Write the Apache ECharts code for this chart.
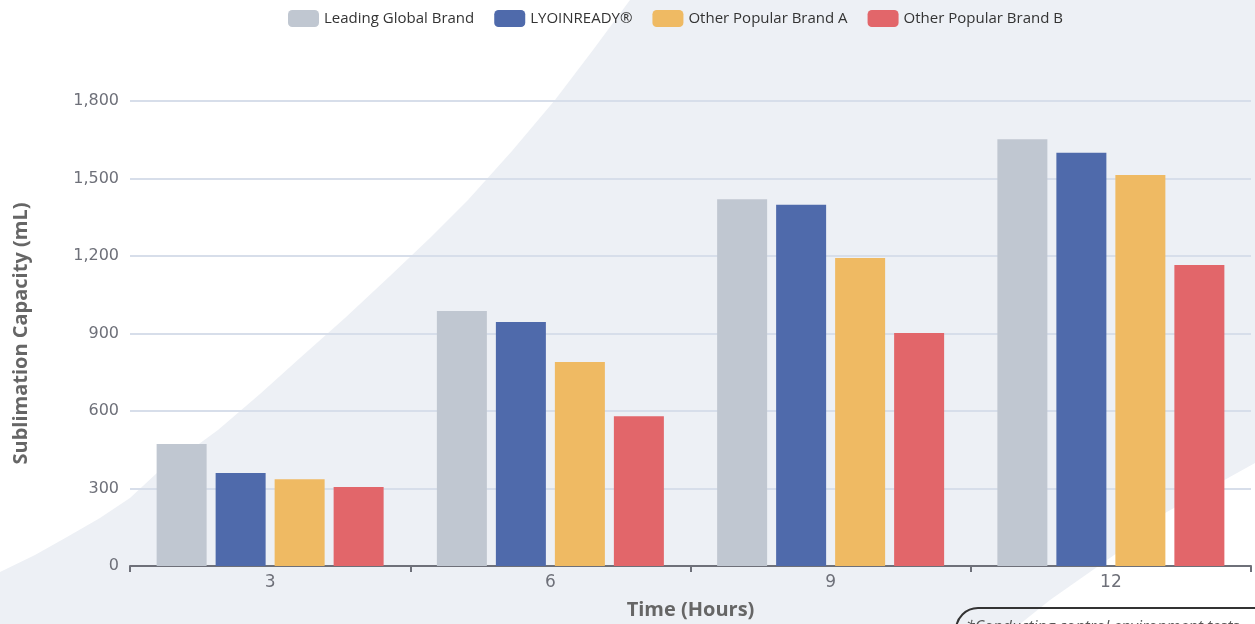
<!DOCTYPE html>
<html>
<head>
<meta charset="utf-8">
<script src="https://cdn.jsdelivr.net/npm/echarts@6/dist/echarts.min.js"></script>
<style>
  html, body { margin: 0; padding: 0; background: #fff; }
  #chart { width: 1255px; height: 624px; }
</style>
</head>
<body>
<div id="chart"></div>
<script>
const hours = ['3', '6', '9', '12'];
const leadingGlobal = [472, 987, 1420, 1652];
const lyoinready = [360, 945, 1398, 1600];
const brandA = [336, 790, 1192, 1514];
const brandB = [306, 580, 902, 1165];

const seriesDefs = [
  { name: 'Leading Global Brand', color: '#c0c7d1', data: leadingGlobal },
  { name: 'LYOINREADY®', color: '#4f6aab', data: lyoinready },
  { name: 'Other Popular Brand A', color: '#efba63', data: brandA },
  { name: 'Other Popular Brand B', color: '#e2666a', data: brandB }
];

const FONT = '"Open Sans", "Noto Sans", sans-serif';
const TICK_FONT = '"DejaVu Sans", sans-serif';

const chart = echarts.init(document.getElementById('chart'), null, { renderer: 'canvas' });

chart.setOption({
  backgroundColor: '#ffffff',
  animation: false,
  textStyle: { fontFamily: FONT },
  graphic: [
    {
      // decorative backdrop swoosh
      type: 'polygon',
      z: -10,
      silent: true,
      shape: {
        points: [
          [630, 0], [1255, 0], [1255, 463], [1165, 513], [1117, 553], [1050, 600], [1020, 624],
          [0, 624], [0, 572], [35, 555], [67, 537], [100, 518], [130, 498], [157, 473], [188, 452],
          [218, 430], [260, 394], [300, 358], [345, 318], [390, 276], [430, 238], [468, 200],
          [512, 151], [555, 100], [593, 50]
        ]
      },
      style: { fill: '#edf0f5' }
    },
    {
      type: 'rect',
      z: 10,
      silent: true,
      shape: { x: 956, y: 608, width: 320, height: 60, r: 22 },
      style: { fill: 'transparent', stroke: '#333333', lineWidth: 2 }
    },
    {
      type: 'text',
      z: 11,
      silent: true,
      left: 966,
      top: 619,
      style: {
        text: '*Conducting control environment tests',
        fill: '#555555',
        font: 'italic 16px ' + FONT
      }
    }
  ],
  legend: {
    top: 5,
    left: 283,
    itemWidth: 31,
    itemHeight: 17,
    itemGap: 20,
    icon: 'roundRect',
    textStyle: { color: '#333', fontSize: 15, fontFamily: FONT },
    data: seriesDefs.map((s) => s.name)
  },
  grid: {
    left: 130,
    right: 4,
    top: 101,
    bottom: 58,
    containLabel: false,
    outerBoundsMode: 'none'
  },
  xAxis: {
    type: 'category',
    data: hours,
    name: 'Time (Hours)',
    nameLocation: 'middle',
    nameGap: 34,
    nameTextStyle: { color: '#666', fontSize: 20, fontWeight: 'bold', fontFamily: FONT },
    axisLine: { lineStyle: { color: '#6e7079', width: 2 } },
    axisTick: { show: true, length: 6, lineStyle: { color: '#6e7079', width: 2 } },
    axisLabel: { color: '#6e7079', fontSize: 17, margin: 8, fontFamily: TICK_FONT },
    splitLine: { show: false }
  },
  yAxis: {
    type: 'value',
    min: 0,
    max: 1800,
    interval: 300,
    name: 'Sublimation Capacity (mL)',
    nameLocation: 'middle',
    nameGap: 99,
    nameTextStyle: { color: '#666', fontSize: 20, fontWeight: 'bold', fontFamily: FONT },
    axisLine: { show: false },
    axisTick: { show: false },
    axisLabel: {
      color: '#6e7079',
      fontSize: 16,
      margin: 11,
      fontFamily: TICK_FONT,
      formatter: (v) => v.toLocaleString('en-US')
    },
    splitLine: { lineStyle: { color: '#d7deea', width: 2 } }
  },
  series: seriesDefs.map((s) => ({
    name: s.name,
    type: 'bar',
    data: s.data,
    barWidth: 50,
    barGap: '18%',
    itemStyle: { color: s.color },
    emphasis: { focus: 'series' }
  }))
});
</script>
</body>
</html>
